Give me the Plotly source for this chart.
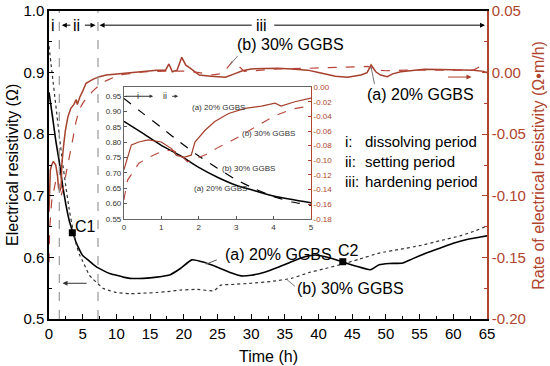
import plotly.graph_objects as go

# ---------------- data ----------------
# electrical resistivity (left axis, ohm)
t_res_a = [0, 0.5, 1, 1.5, 2, 2.5, 3, 3.5, 4, 4.5, 5, 6, 7, 8, 9, 10, 11, 12, 14, 16, 18, 19.5,
           21.2, 23, 25, 27, 28.5, 30, 32, 34, 36, 38, 39.5, 41, 43.5, 45.5, 47.7, 49, 50.5,
           52.5, 54, 56, 58, 60, 62, 64, 65]
res_a = [0.868, 0.83, 0.79, 0.757, 0.718, 0.686, 0.66, 0.642, 0.625, 0.613, 0.603, 0.594,
         0.585, 0.579, 0.574, 0.571, 0.568, 0.566, 0.566, 0.568, 0.572, 0.582, 0.596, 0.592,
         0.584, 0.575, 0.570, 0.571, 0.576, 0.584, 0.593, 0.601, 0.604, 0.601, 0.593, 0.586,
         0.580, 0.588, 0.590, 0.591, 0.598, 0.607, 0.615, 0.623, 0.629, 0.633, 0.635]
t_res_b = [0, 0.5, 1, 1.5, 2, 2.5, 3, 3.5, 4, 4.5, 5, 5.5, 6, 6.5, 7, 8, 9, 10, 12, 14, 16, 18,
           19.5, 22, 24.5, 25.5, 27, 30, 33, 36, 38.5, 41, 43.5, 46, 49, 52, 55, 58, 61, 63, 65]
res_b = [0.943, 0.895, 0.848, 0.80, 0.755, 0.715, 0.678, 0.648, 0.623, 0.605, 0.594, 0.582,
         0.571, 0.565, 0.560, 0.550, 0.546, 0.543, 0.541, 0.542, 0.543, 0.545, 0.547, 0.548,
         0.546, 0.555, 0.556, 0.558, 0.561, 0.566, 0.575, 0.582, 0.589, 0.597, 0.607, 0.613,
         0.619, 0.627, 0.635, 0.642, 0.651]

# rate of electrical resistivity (right axis, ohm*m/h)
t_rate_a = [0, 0.2, 0.4, 0.65, 1.0, 1.27, 1.4, 1.6, 1.8, 1.9, 2.17, 2.43, 2.8, 3.24, 3.68,
            4.04, 4.2, 4.57, 5, 5.5, 6.5, 7.5, 8.5, 10, 12, 14, 15, 16, 17.3, 17.8, 18.3, 19,
            19.7, 20.3, 21, 22.3, 24, 26.2, 27.5, 28.7, 30, 32, 34, 36, 38.4, 40, 41, 42.5,
            44.3, 46.3, 47.2, 47.8, 48.5, 49.2, 50.2, 51, 52.2, 54, 55.7, 58, 60.6, 63, 64.5, 65]
rate_a = [-0.113, -0.079, -0.075, -0.072, -0.075, -0.084, -0.093, -0.096, -0.093, -0.075,
          -0.059, -0.047, -0.036, -0.029, -0.026, -0.022, -0.026, -0.020, -0.015, -0.0087,
          -0.0055, -0.0033, -0.002, -0.0011, 0.0, 0.0013, 0.0015, 0.002, 0.002, 0.007, 0.0007,
          0.002, 0.0124, 0.006, 0.0035, -0.002, -0.003, -0.0038, -0.001, 0.0015, 0.003, 0.0035,
          0.0035, 0.003, 0.002, 0.0, -0.001, -0.003, -0.0038, -0.002, 0.0, 0.0062, 0.0007,
          -0.002, -0.0033, -0.001, 0.0007, 0.002, 0.0027, 0.0025, 0.002, 0.002, 0.001, -0.0001]
t_rate_b = [0, 0.1, 0.4, 0.7, 1.0, 1.3, 1.5, 1.7, 1.9, 2.2, 2.5, 3.0, 3.5, 4.0, 4.5, 5.0, 5.5,
            6.5, 7.5, 8.5, 9.9, 11, 12.4, 14, 16, 18, 20, 22.3, 24, 25.5, 26.5, 27.2, 28, 29,
            31, 34, 38.4, 42, 45, 47.3, 48.5, 50, 53, 56, 60, 63, 64, 64.7, 65]
rate_b = [-0.154, -0.127, -0.104, -0.095, -0.088, -0.086, -0.092, -0.102, -0.098, -0.092,
          -0.083, -0.07, -0.055, -0.04, -0.03, -0.025, -0.021, -0.015, -0.010, -0.0065,
          -0.0033, -0.0015, -0.0003, 0.0005, 0.001, 0.0012, 0.0013, 0.0, -0.002, -0.001, 0.004,
          0.009, 0.006, 0.001, 0.002, 0.003, 0.0035, 0.004, 0.0045, 0.005, 0.002, 0.0015, 0.002,
          0.002, 0.0025, 0.002, 0.005, 0.001, 0.0]

# critical points
crit_labels = ["C1", "C2"]
crit_t = [3.46, 43.6]
crit_res = [0.640, 0.593]

# phase boundaries (h)
phase_bounds = [1.53, 7.27]

# tick labels
x_ticks = [0, 5, 10, 15, 20, 25, 30, 35, 40, 45, 50, 55, 60, 65]
y_ticks = [0.5, 0.6, 0.7, 0.8, 0.9, 1.0]
y_ticktext = ["0.5", "0.6", "0.7", "0.8", "0.9", "1.0"]
y2_ticks = [-0.20, -0.15, -0.10, -0.05, 0.00, 0.05]
y2_ticktext = ["-0.20", "-0.15", "-0.10", "-0.05", "0.00", "0.05"]
ix_ticks = [0, 1, 2, 3, 4, 5]
iy_ticks = [0.55, 0.60, 0.65, 0.70, 0.75, 0.80, 0.85, 0.90, 0.95]
iy_ticktext = ["0.55", "0.60", "0.65", "0.70", "0.75", "0.80", "0.85", "0.90", "0.95"]
iy2_ticks = [0.00, -0.02, -0.04, -0.06, -0.08, -0.10, -0.12, -0.14, -0.16, -0.18]
iy2_ticktext = ["0.00", "-0.02", "-0.04", "-0.06", "-0.08", "-0.10", "-0.12", "-0.14", "-0.16", "-0.18"]

period_keys = ["i:", "ii:", "iii:"]
period_names = ["dissolving period", "setting period", "hardening period"]

# ---------------- styles ----------------
FONT = "Arial, Liberation Sans, sans-serif"
BROWN = "#a5402c"
BROWN_D = "#b8453a"
AXBROWN = "#b0452e"

fig = go.Figure()

# main plot traces
fig.add_trace(go.Scatter(x=t_rate_a, y=rate_a, xaxis="x", yaxis="y2", mode="lines",
                         line=dict(color=BROWN, width=1.5)))
fig.add_trace(go.Scatter(x=t_rate_b, y=rate_b, xaxis="x", yaxis="y2", mode="lines",
                         line=dict(color=BROWN_D, width=1.2, dash="dash")))
fig.add_trace(go.Scatter(x=t_res_a, y=res_a, xaxis="x", yaxis="y", mode="lines",
                         line=dict(color="black", width=1.6, shape="spline", smoothing=0.5)))
fig.add_trace(go.Scatter(x=t_res_b, y=res_b, xaxis="x", yaxis="y", mode="lines",
                         line=dict(color="#333333", width=1.2, dash="dot", shape="spline", smoothing=0.5)))
fig.add_trace(go.Scatter(x=crit_t, y=crit_res, xaxis="x", yaxis="y", mode="markers",
                         marker=dict(symbol="square", size=7, color="black")))

# inset traces
fig.add_trace(go.Scatter(x=t_rate_a, y=rate_a, xaxis="x2", yaxis="y4", mode="lines",
                         line=dict(color=BROWN, width=1.2)))
fig.add_trace(go.Scatter(x=t_rate_b, y=rate_b, xaxis="x2", yaxis="y4", mode="lines",
                         line=dict(color=BROWN_D, width=1.1, dash="dash")))
fig.add_trace(go.Scatter(x=t_res_a, y=res_a, xaxis="x2", yaxis="y3", mode="lines",
                         line=dict(color="black", width=1.5, shape="spline", smoothing=0.5)))
fig.add_trace(go.Scatter(x=t_res_b, y=res_b, xaxis="x2", yaxis="y3", mode="lines",
                         line=dict(color="black", width=1.2, dash="dash", shape="spline", smoothing=0.5)))

tickfont = dict(family=FONT, size=15, color="black")
small = dict(family=FONT, size=8, color="#333333")

fig.update_layout(
    width=550, height=366,
    margin=dict(l=49, r=63, t=11, b=47, autoexpand=False),
    paper_bgcolor="white", plot_bgcolor="white",
    showlegend=False, hovermode=False,
    font=dict(family=FONT, color="black"),
    xaxis=dict(domain=[0, 1], range=[0, 65], tickmode="array", tickvals=x_ticks,
               ticks="inside", ticklen=5, tickwidth=1, tickcolor="black",
               minor=dict(ticks="inside", ticklen=3, dtick=2.5, tick0=0, tickcolor="black"),
               showline=True, linecolor="black", linewidth=1.5, mirror=True,
               showgrid=False, zeroline=False, tickfont=tickfont, automargin=False,
               ticklabeloverflow="allow"),
    yaxis=dict(range=[0.5, 1.0], tickmode="array", tickvals=y_ticks, ticktext=y_ticktext,
               ticks="inside", ticklen=5, tickcolor="black",
               minor=dict(ticks="inside", ticklen=3, dtick=0.05, tick0=0.5, tickcolor="black"),
               showline=True, linecolor="black", linewidth=1.5,
               showgrid=False, zeroline=False, tickfont=tickfont, automargin=False,
               ticklabeloverflow="allow"),
    yaxis2=dict(overlaying="y", side="right", anchor="x", range=[-0.2, 0.05],
                tickmode="array", tickvals=y2_ticks, ticktext=y2_ticktext,
                ticks="inside", ticklen=5, tickcolor=AXBROWN,
                minor=dict(ticks="inside", ticklen=3, dtick=0.025, tick0=-0.2, tickcolor=AXBROWN),
                showline=True, linecolor=AXBROWN, linewidth=1.5,
                showgrid=False, zeroline=False, automargin=False, ticklabeloverflow="allow",
                tickfont=dict(family=FONT, size=15, color=AXBROWN)),
    xaxis2=dict(domain=[0.171, 0.598], anchor="y3", range=[0, 5], tickmode="array",
                tickvals=ix_ticks, ticks="inside", ticklen=3, tickcolor="#555",
                showline=True, linecolor="#666", linewidth=1, mirror=True,
                showgrid=False, zeroline=False, tickfont=small, automargin=False),
    yaxis3=dict(domain=[0.325, 0.753], anchor="x2", range=[0.55, 0.98], tickmode="array",
                tickvals=iy_ticks, ticktext=iy_ticktext, ticks="inside", ticklen=3,
                tickcolor="#555", showline=True, linecolor="#666", linewidth=1,
                showgrid=False, zeroline=False, tickfont=small, automargin=False),
    yaxis4=dict(overlaying="y3", side="right", anchor="x2", range=[-0.18, 0.0],
                tickmode="array", tickvals=iy2_ticks, ticktext=iy2_ticktext,
                ticks="inside", ticklen=3, tickcolor=AXBROWN,
                showline=True, linecolor=AXBROWN, linewidth=1,
                showgrid=False, zeroline=False, automargin=False,
                tickfont=dict(family=FONT, size=8, color=AXBROWN)),
)

# phase boundary dashed lines
for b in phase_bounds:
    fig.add_shape(type="line", xref="x", yref="y", x0=b, x1=b, y0=0.5, y1=1.0,
                  line=dict(color="#999999", width=1.2, dash="dash"))

ann = []
def txt(x, y, s, xref="x", yref="y", size=16, color="black", xanchor="center", angle=0):
    ann.append(dict(x=x, y=y, xref=xref, yref=yref, text=s, showarrow=False, textangle=angle,
                    font=dict(family=FONT, size=size, color=color), xanchor=xanchor,
                    yanchor="middle"))

def arrow(x0, y0, x1, y1, xref="x", yref="y", color="black", head=2, width=1, size=1):
    ann.append(dict(x=x1, y=y1, ax=x0, ay=y0, xref=xref, yref=yref, axref=xref, ayref=yref,
                    text="", showarrow=True, arrowhead=head, arrowsize=size,
                    arrowwidth=width, arrowcolor=color))

# axis titles
txt(-0.0845, 0.5, "Electrical resistivity (Ω)", xref="paper", yref="paper", angle=-90)
txt(1.116, 0.5, "Rate of electrical resistivity (Ω•m/h)", xref="paper", yref="paper",
    color=AXBROWN, angle=-90)
txt(0.5, -0.123, "Time (h)", xref="paper", yref="paper")

# phase arrows at top
ytop = 0.977
txt(0.6, ytop, "i", size=16)
arrow(3.4, ytop, 1.9, ytop)
txt(4.1, ytop, "ii", size=16)
arrow(5.1, ytop, 6.9, ytop)
arrow(30.3, ytop, 7.5, ytop)
txt(31.6, ytop, "iii", size=16)
arrow(33.2, ytop, 64.7, ytop)

# critical points
txt(crit_t[0] + 2.0, 0.650, crit_labels[0])
txt(crit_t[1] + 0.8, 0.611, crit_labels[1])

# curve labels (main)
txt(34.0, 0.605, "(a) 20% GGBS")
fig.add_shape(type="line", xref="x", yref="y", x0=24.9, y0=0.596, x1=23.3, y1=0.589,
              line=dict(color="#555", width=1))
txt(44.8, 0.550, "(b) 30% GGBS")
fig.add_shape(type="line", xref="x", yref="y", x0=36.5, y0=0.553, x1=35.2, y1=0.565,
              line=dict(color="#777", width=1))
txt(35.8, 0.0232, "(b) 30% GGBS", yref="y2")
fig.add_shape(type="line", xref="x", yref="y2", x0=28.0, y0=0.0135, x1=26.8, y1=0.006,
              line=dict(color="#777", width=1))
txt(55.2, -0.018, "(a) 20% GGBS", yref="y2")
fig.add_shape(type="line", xref="x", yref="y2", x0=48.3, y0=-0.0093, x1=47.8, y1=0.0045,
              line=dict(color="#777", width=1))

# axis-indicating arrows
arrow(59.0, -0.0036, 62.7, -0.0036, yref="y2", color=BROWN)
arrow(5.8, 0.558, 2.0, 0.558, color="#333")

# period legend
for i, (k, n) in enumerate(zip(period_keys, period_names)):
    yy = 0.5747 - i * 0.0649
    txt(0.671, yy, k, xref="paper", yref="paper", size=15, xanchor="left")
    txt(0.717, yy, n, xref="paper", yref="paper", size=15, xanchor="left")

# inset labels
txt(2.52, 0.914, "(a) 20% GGBS", xref="x2", yref="y3", size=8, color="#333")
txt(3.86, 0.830, "(b) 30% GGBS", xref="x2", yref="y3", size=8, color="#333")
txt(3.34, 0.713, "(b) 30% GGBS", xref="x2", yref="y3", size=8, color="#333")
txt(2.57, 0.650, "(a) 20% GGBS", xref="x2", yref="y3", size=8, color="#333")
# inset phase marks
arrow(0.0, 0.95, 0.78, 0.95, xref="x2", yref="y3", color="#333", head=2, size=0.7)
txt(0.37, 0.95, "i", xref="x2", yref="y3", size=9, color="#333")
txt(1.1, 0.95, "ii", xref="x2", yref="y3", size=9, color="#333")
arrow(1.25, 0.95, 1.45, 0.95, xref="x2", yref="y3", color="#333", head=2, size=0.7)

fig.update_layout(annotations=ann)
# remove the default 8px page margin so the figure sits at the window's top-left corner
fig.write_html("out.html", config={"displayModeBar": False},
               post_script="document.body.style.margin='0';document.body.style.padding='0';")
